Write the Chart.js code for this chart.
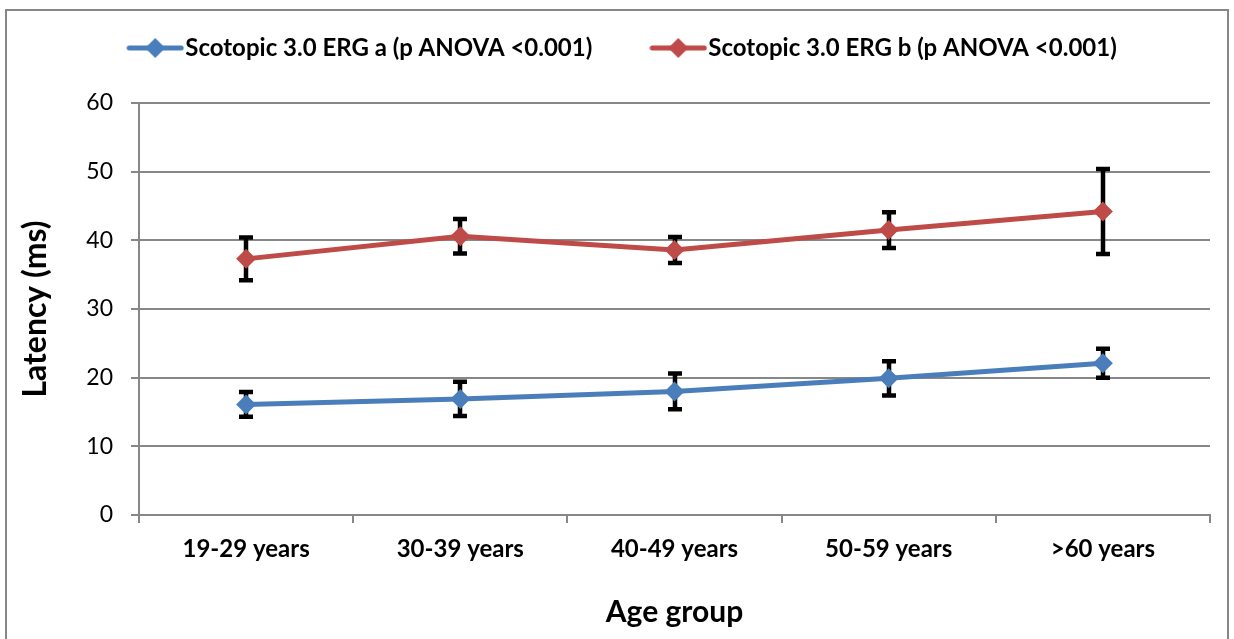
<!DOCTYPE html>
<html>
<head>
<meta charset="utf-8">
<script src="https://cdn.jsdelivr.net/npm/chart.js"></script>
<style>
html, body { margin: 0; padding: 0; background: #fff; }
#wrap { position: relative; width: 1234px; height: 639px; overflow: hidden; }
#frame { position: absolute; left: 5px; top: 9px; width: 1224px; height: 700px; border: 2px solid #878787; box-sizing: border-box; }
#c { position: absolute; left: 0; top: 0; }
</style>
</head>
<body>
<div id="wrap"><div id="frame"></div><canvas id="c" width="1234" height="639"></canvas></div>
<script>
const ageGroups = ["19-29 years", "30-39 years", "40-49 years", "50-59 years", ">60 years"];
const latencyA = [16.1, 16.9, 18.0, 19.9, 22.1];
const errorA = [1.8, 2.5, 2.6, 2.5, 2.1];
const latencyB = [37.3, 40.6, 38.6, 41.5, 44.2];
const errorB = [3.1, 2.5, 1.9, 2.6, 6.2];
const seriesNames = ["Scotopic 3.0 ERG a (p ANOVA <0.001)", "Scotopic 3.0 ERG b (p ANOVA <0.001)"];
const yTicks = [0, 10, 20, 30, 40, 50, 60];

const blue = "#4A7EBB";
const red = "#BE4B48";
const gridGray = "#878787";
const FONT = "Lato, 'Liberation Sans', sans-serif";

// legend symbol: line with diamond, like the spreadsheet legend
const legendIcon = (color) => {
    const cv = document.createElement("canvas");
    cv.width = 58; cv.height = 22;
    const g = cv.getContext("2d");
    g.strokeStyle = color; g.lineWidth = 5; g.lineCap = "round";
    g.beginPath(); g.moveTo(3, 11); g.lineTo(55, 11); g.stroke();
    g.fillStyle = color;
    g.beginPath(); g.moveTo(29, 1); g.lineTo(39, 11); g.lineTo(29, 21); g.lineTo(19, 11); g.closePath(); g.fill();
    return cv;
};

const errorBars = {
    id: "errorBars",
    beforeDatasetsDraw(chart) {
        const ctx = chart.ctx;
        const ys = chart.scales.y;
        ctx.save();
        ctx.strokeStyle = "#000";
        ctx.lineWidth = 4.5;
        chart.data.datasets.forEach((ds, i) => {
            const meta = chart.getDatasetMeta(i);
            meta.data.forEach((pt, j) => {
                const x = Math.round(pt.x);
                const top = ys.getPixelForValue(ds.data[j] + ds.errors[j]);
                const bot = ys.getPixelForValue(ds.data[j] - ds.errors[j]);
                ctx.beginPath();
                ctx.moveTo(x, top); ctx.lineTo(x, bot);
                ctx.moveTo(x - 7, top); ctx.lineTo(x + 7, top);
                ctx.moveTo(x - 7, bot); ctx.lineTo(x + 7, bot);
                ctx.stroke();
            });
        });
        ctx.restore();
    }
};

// keep the legend band a fixed height so the plot starts where the original does
const legendHeight = {
    id: "legendHeight",
    afterInit(chart) {
        const lg = chart.legend;
        const fit = lg.fit.bind(lg);
        lg.fit = function () { fit(); this.height = 135; };
    }
};

new Chart(document.getElementById("c").getContext("2d"), {
    type: "line",
    data: {
        labels: ageGroups,
        datasets: [{
            label: seriesNames[0],
            data: latencyA,
            errors: errorA,
            borderColor: blue,
            backgroundColor: blue,
            borderWidth: 5,
            pointStyle: "rectRot",
            pointRadius: 10,
            pointBorderWidth: 0,
            tension: 0,
        }, {
            label: seriesNames[1],
            data: latencyB,
            errors: errorB,
            borderColor: red,
            backgroundColor: red,
            borderWidth: 5,
            pointStyle: "rectRot",
            pointRadius: 10,
            pointBorderWidth: 0,
            tension: 0,
        }]
    },
    options: {
        responsive: false,
        animation: false,
        layout: { padding: { left: 44, right: 24, top: -32, bottom: 0 } },
        plugins: {
            legend: {
                position: "top",
                labels: {
                    usePointStyle: true,
                    pointStyleWidth: 36,
                    padding: 68,
                    color: "#000",
                    font: { family: FONT, size: 24, weight: "bold" },
                    generateLabels: (chart) => chart.data.datasets.map((ds, i) => ({
                        text: ds.label,
                        pointStyle: legendIcon(ds.borderColor),
                        fillStyle: ds.borderColor,
                        strokeStyle: ds.borderColor,
                        lineWidth: 0,
                        fontColor: "#000",
                        datasetIndex: i,
                    })),
                },
            },
            tooltip: { enabled: false },
        },
        scales: {
            x: {
                offset: true,
                afterFit: (scale) => { scale.height = 124; },
                grid: { offset: true, drawOnChartArea: false, drawTicks: true, tickLength: 8, color: gridGray, lineWidth: 2 },
                border: { color: gridGray, width: 2 },
                ticks: { color: "#000", padding: 12, font: { family: FONT, size: 24, weight: "bold" } },
                title: { display: true, text: "Age group", color: "#000", padding: { top: 0, bottom: 9 }, font: { family: FONT, size: 30, weight: "bold" } },
            },
            y: {
                min: 0,
                max: 60,
                afterBuildTicks: (scale) => { scale.ticks = yTicks.map(v => ({ value: v })); },
                afterFit: (scale) => { scale.width = 95; },
                grid: { tickLength: 8, color: gridGray, lineWidth: 2 },
                border: { color: gridGray, width: 2 },
                ticks: { color: "#000", padding: 18, font: { family: FONT, size: 23 } },
                title: { display: true, text: "Latency (ms)", color: "#000", padding: { top: -28, bottom: 0 }, font: { family: FONT, size: 32, weight: "bold" } },
            },
        },
    },
    plugins: [errorBars, legendHeight],
});
</script>
</body>
</html>
